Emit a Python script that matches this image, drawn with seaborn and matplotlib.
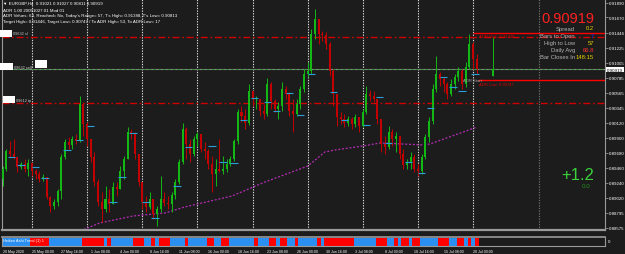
import matplotlib
matplotlib.use("Agg")
import matplotlib.pyplot as plt
from matplotlib.patches import Rectangle
import numpy as np
import seaborn as sns

# ---- EURGBP H4 (drawn as 8-hour candles) ----
first_open = 0.89294
close = [
    0.89442, 0.89706, 0.89662, 0.89618, 0.89471, 0.89515, 0.89442, 0.89530, 0.89412, 0.89368,
    0.89294, 0.89324, 0.89030, 0.88897, 0.88956, 0.89118, 0.89618, 0.89839, 0.89795, 0.89883,
    0.89853, 0.90397, 0.90103, 0.89883, 0.89618, 0.89250, 0.88956, 0.88853, 0.89000, 0.88927,
    0.89177, 0.89147, 0.89412, 0.89589, 0.89986, 0.89956, 0.89662, 0.89250, 0.88956, 0.88883,
    0.89000, 0.88780, 0.88853, 0.89000, 0.88941, 0.88927, 0.89059, 0.89250, 0.89545, 0.90030,
    0.89809, 0.89662, 0.89883, 0.89956, 0.89736, 0.89706, 0.89515, 0.89368, 0.89442, 0.89412,
    0.89442, 0.89515, 0.89589, 0.89853, 0.90280, 0.90221, 0.90118, 0.90588, 0.90471, 0.90471,
    0.90294, 0.90250, 0.90691, 0.90441, 0.90324, 0.90368, 0.90618, 0.90544, 0.90294, 0.90250,
    0.90397, 0.90618, 0.90838, 0.90883, 0.91427, 0.91647, 0.91427, 0.91412, 0.91280, 0.90883,
    0.90544, 0.90206, 0.90177, 0.90118, 0.90177, 0.90103, 0.90206, 0.90074, 0.90280, 0.90544,
    0.90515, 0.90471, 0.90177, 0.89809, 0.89765, 0.89986, 0.89883, 0.89927, 0.89662, 0.89501,
    0.89545, 0.89618, 0.89442, 0.89412, 0.89618, 0.89912, 0.90147, 0.90618, 0.90838, 0.90765,
    0.90691, 0.90544, 0.90691, 0.90794, 0.90883, 0.90691, 0.90941, 0.91280, 0.91059, 0.90919,
]
high = [
    0.89486, 0.89736, 0.89853, 0.89883, 0.89618, 0.89545, 0.89589, 0.89589, 0.89515, 0.89442,
    0.89412, 0.89368, 0.89324, 0.89044, 0.89000, 0.89147, 0.89662, 0.89883, 0.89912, 0.89927,
    0.89956, 0.90515, 0.90427, 0.90133, 0.89883, 0.89692, 0.89294, 0.89103, 0.89191, 0.89147,
    0.89250, 0.89250, 0.89486, 0.89633, 0.90059, 0.90030, 0.89986, 0.89662, 0.89250, 0.89044,
    0.89103, 0.89000, 0.88897, 0.89338, 0.89103, 0.89044, 0.89103, 0.89294, 0.89589, 0.90118,
    0.90059, 0.89883, 0.89927, 0.89986, 0.89956, 0.89839, 0.89736, 0.89633, 0.89589, 0.89883,
    0.89633, 0.89589, 0.89633, 0.89883, 0.90324, 0.90368, 0.90324, 0.90691, 0.90588, 0.90515,
    0.90471, 0.90397, 0.90780, 0.90721, 0.90471, 0.90427, 0.90721, 0.90662, 0.90574, 0.90471,
    0.90471, 0.90662, 0.90912, 0.91015, 0.91500, 0.91794, 0.91647, 0.91471, 0.91456, 0.91309,
    0.90912, 0.90544, 0.90280, 0.90250, 0.90221, 0.90206, 0.90250, 0.90206, 0.90324, 0.90662,
    0.90603, 0.90588, 0.90471, 0.90177, 0.89927, 0.90074, 0.90030, 0.89986, 0.89927, 0.89736,
    0.89589, 0.89692, 0.89662, 0.89515, 0.89662, 0.89956, 0.90206, 0.90691, 0.91103, 0.90868,
    0.90794, 0.90721, 0.90765, 0.90838, 0.90941, 0.90912, 0.91015, 0.91427, 0.91309, 0.91133,
]
low = [
    0.89191, 0.89412, 0.89618, 0.89589, 0.89397, 0.89442, 0.89397, 0.89338, 0.89338, 0.89294,
    0.89250, 0.89265, 0.89000, 0.88809, 0.88853, 0.88897, 0.89000, 0.89589, 0.89736, 0.89736,
    0.89809, 0.89839, 0.89927, 0.89780, 0.89545, 0.89191, 0.88897, 0.88662, 0.88809, 0.88809,
    0.88927, 0.89044, 0.89147, 0.89294, 0.89589, 0.89883, 0.89589, 0.89191, 0.88853, 0.88809,
    0.88853, 0.88706, 0.88603, 0.88809, 0.88897, 0.88853, 0.88809, 0.89000, 0.89221, 0.89515,
    0.89589, 0.89545, 0.89633, 0.89780, 0.89692, 0.89589, 0.89442, 0.89103, 0.89191, 0.89397,
    0.89368, 0.89397, 0.89486, 0.89559, 0.89809, 0.90133, 0.90030, 0.90088, 0.90368, 0.90324,
    0.90221, 0.90177, 0.90221, 0.90324, 0.90280, 0.90177, 0.90294, 0.90471, 0.90221, 0.89986,
    0.90221, 0.90324, 0.90574, 0.90794, 0.90838, 0.91353, 0.91280, 0.91324, 0.91206, 0.90809,
    0.90368, 0.90074, 0.90103, 0.90059, 0.90074, 0.90030, 0.90059, 0.89986, 0.90059, 0.90250,
    0.90441, 0.90427, 0.90103, 0.89692, 0.89662, 0.89736, 0.89780, 0.89692, 0.89589, 0.89442,
    0.89442, 0.89442, 0.89397, 0.89338, 0.89368, 0.89589, 0.89839, 0.90103, 0.90574, 0.90662,
    0.90574, 0.90471, 0.90515, 0.90618, 0.90736, 0.90618, 0.90647, 0.90912, 0.90912, 0.90838,
]
# today's candle shown by the ADR indicator in the chart shift area (O, H, L, C)
today_ohlc = [0.90813, 0.91388, 0.90811, 0.90919]

# moving average (magenta)
ma_bars = [21.1, 26.5, 35.5, 44.2, 49.6, 62.4, 71.4, 83.1, 87.7, 90.5, 98.1, 102.7, 114.4, 116.3, 129.1]
ma_values = [0.88530, 0.88648, 0.88750, 0.88794, 0.88883, 0.89044, 0.89250, 0.89486,
             0.89692, 0.89721, 0.89780, 0.89824, 0.89795, 0.89809, 0.90059]

# small cyan session-open marks
open_tick_bars = [1.5, 4, 8, 10.5, 16.5, 20, 23, 29, 31.5, 34.5, 38, 40.5, 46.5, 49.5, 56, 59, 62,
                  64.5, 67.5, 71, 73.5, 77, 80, 83, 89, 92, 98, 101.5, 104, 109.5, 113, 115.5,
                  119, 121.5, 124, 127.5]
open_tick_prices = [0.89618, 0.89501, 0.89471, 0.89309, 0.89721, 0.89868, 0.90074, 0.88956,
                    0.89324, 0.89971, 0.88956, 0.88721, 0.89191, 0.89765, 0.89780, 0.89545,
                    0.89530, 0.90162, 0.90486, 0.90427, 0.90294, 0.90559, 0.90235, 0.90838,
                    0.90574, 0.90162, 0.90088, 0.90500, 0.89824, 0.89545, 0.89383, 0.90339,
                    0.90794, 0.90647, 0.90588, 0.90838]

# Heiken Ashi trend strip (runs of bars)
ha_lengths = [8, 5, 9, 6, 1, 1, 6, 3, 2, 1, 1, 3, 4, 1, 5, 2, 2, 2, 7, 1, 3, 2, 1, 2, 2, 1, 5, 1,
              1, 8, 6, 3, 2, 1, 1, 2, 1, 2, 5, 3, 2, 2, 1, 1, 1, 1]
ha_trend = ["up", "dn"] * 23

time_labels = ["20 May 2020", "25 May 00:00", "27 May 16:00", "1 Jun 08:00", "4 Jun 00:00",
               "8 Jun 16:00", "11 Jun 08:00", "16 Jun 00:00", "18 Jun 16:00", "23 Jun 08:00",
               "26 Jun 00:00", "30 Jun 16:00", "3 Jul 08:00", "8 Jul 00:00", "10 Jul 16:00",
               "15 Jul 08:00", "20 Jul 00:00"]
time_label_bars = list(range(0, 129, 8))
week_bars = [8, 23, 38, 53, 68, 83, 98, 113, 128]

price_ticks = [0.91890, 0.91670, 0.91446, 0.91225, 0.91005, 0.90785, 0.90565, 0.90345,
               0.90120, 0.89900, 0.89680, 0.89460, 0.89240, 0.89020, 0.88795, 0.88575]
bid = 0.90919
sl_level = 0.91383
tp_level = 0.90412
adr_high = 0.91446
adr_low = 0.90747

# ---- styling ----
BG = "#1c1c1c"
GREEN = "#14b814"
RED = "#c40000"
sns.set_style("dark", {"axes.facecolor": BG, "figure.facecolor": BG, "axes.grid": False,
                       "axes.edgecolor": "#8c8c8c"})
plt.rcParams["font.family"] = ["Liberation Sans", "DejaVu Sans"]

W, H = 625, 255
fig = plt.figure(figsize=(W / 100, H / 100), dpi=100)
fig.patch.set_facecolor(BG)


def rect(x0, y0, x1, y1):
    return [x0 / W, 1 - y1 / H, (x1 - x0) / W, (y1 - y0) / H]


def ftext(x, y, s, **kw):
    fig.text(x / W, 1 - y / H, s, va="center", **kw)


ax = fig.add_axes(rect(2, 0, 605, 231))
axi = fig.add_axes(rect(2, 238, 605, 247))
XLIM = (-0.16, 163.9)

# candles
bars = np.arange(len(close))
c = np.array(close)
o = np.r_[first_open, c[:-1]]
hi = np.maximum(np.array(high), np.maximum(o, c))
lo = np.minimum(np.array(low), np.minimum(o, c))
cols = np.where(c >= o, GREEN, RED)
ax.vlines(bars, lo, hi, colors=cols, lw=0.7, zorder=3)
ax.bar(bars, np.maximum(np.abs(c - o), 0.00004), bottom=np.minimum(o, c), width=0.55,
       color=cols, lw=0, zorder=3)

to, th, tl, tc = today_ohlc
ax.vlines(133.5, tl, th, colors=GREEN, lw=0.7, zorder=3)
ax.bar(133.5, tc - to, bottom=to, width=0.55, color=GREEN, lw=0, zorder=3)

# moving average
sns.lineplot(x=ma_bars, y=ma_values, ax=ax, color="#b42cb4", lw=0.9,
             linestyle=(0, (1.6, 1.4)), sort=False, zorder=2)

# session marks
ax.hlines(open_tick_prices, np.array(open_tick_bars), np.array(open_tick_bars) + 2,
          color="#2b9ed8", lw=0.8, zorder=4)

# week separators
for b in week_bars:
    ax.axvline(b, color="#d8d8d8", lw=0.8, ls=(0, (1.2, 1.2)), zorder=1)
ax.axvline(146, color="#6e6e6e", lw=0.8, ls=(0, (1.2, 1.2)), zorder=1)

# levels
for lvl in (sl_level, tp_level):
    ax.axhline(lvl, color="#d00000", lw=1.0, ls=(0, (5, 2, 1.2, 2)), zorder=2)
ax.axhline(bid, color="#8a8a8a", lw=0.8, zorder=2)
ax.axhline(bid, color="#3a8f3a", lw=0.7, ls=(0, (3, 2)), zorder=2)
ax.hlines(adr_high, 128, XLIM[1], color="#ff0000", lw=1.0, zorder=4)
ax.hlines(adr_low, 129.4, XLIM[1], color="#ff0000", lw=1.0, zorder=4)
ax.text(129.6, adr_high - 0.00055, "ADR High: 0.91446", color="#e00000", fontsize=3.0,
        va="center", zorder=5)
ax.text(129.6, adr_low - 0.00055, "ADR Low: 0.90747", color="#e00000", fontsize=3.0,
        va="center", zorder=5)
ax.text(125.3, adr_low + 0.00005, "ADR Start", color="#a0a0a0", fontsize=3.0,
        va="center", zorder=5)

ax.set_xlim(*XLIM)
ax.set_ylim(0.88544, 0.919415)
ax.yaxis.tick_right()
ax.set_yticks(price_ticks)
ax.set_yticklabels([f"{p:.5f}" for p in price_ticks])
ax.tick_params(axis="y", colors="#8c8c8c", labelcolor="white", labelsize=3.2, length=2,
               width=0.6, pad=1)
ax.set_xticks([])
ax.spines["top"].set_visible(False)
for s in ("left", "right", "bottom"):
    ax.spines[s].set_color("#9a9a9a")
    ax.spines[s].set_linewidth(0.8)
ax.spines["bottom"].set_linewidth(1.6)

# Heiken Ashi strip
ha_cols = np.repeat(["#2a8ff0" if t == "up" else "#ff0000" for t in ha_trend], ha_lengths)
axi.bar(bars, 1, width=1.0, color=ha_cols, lw=0, align="center")
axi.set_xlim(*XLIM)
axi.set_ylim(0, 1.15)
axi.set_yticks([])
axi.set_xticks(time_label_bars)
axi.set_xticklabels(time_labels, ha="left")
axi.tick_params(axis="x", colors="#8c8c8c", labelcolor="white", labelsize=2.6, length=1.5,
                width=0.6, pad=0.8)
for s in axi.spines.values():
    s.set_color("#9a9a9a")
    s.set_linewidth(0.8)
axi.spines["top"].set_linewidth(1.2)

# ---- overlay texts ----
ftext(3, 4, "\u25bc EURGBP,H4  0.91021 0.91027 0.90811 0.90919", color="white", fontsize=3.2)
ftext(3, 10.5, "ADR 1.00 20051027 01 Mod 01", color="white", fontsize=3.2)
ftext(3, 16.5, "ADR Values: 63, Reached= No, Today's Range= 57, T's High= 0.91388, "
               "T's Low= 0.90813", color="white", fontsize=3.2)
ftext(3, 22.5, "Target High= 0.91446, Target Low= 0.90747 / To ADR High= 53, To ADR Low= 17",
      color="white", fontsize=3.2)

# left order labels
for (x0, y0, x1, y1) in [(0, 31, 12, 38), (0, 64, 13, 71), (35, 61, 47, 69), (3, 97, 15, 104)]:
    fig.patches.append(Rectangle((x0 / W, 1 - y1 / H), (x1 - x0) / W, (y1 - y0) / H,
                                 transform=fig.transFigure, facecolor="white", lw=0, zorder=6))
ftext(13, 34, "09632 sl", color="#c8c8c8", fontsize=2.8)
ftext(14, 68, "09632 sell", color="#c8c8c8", fontsize=2.8)
ftext(16, 101, "09612 tp", color="#c8c8c8", fontsize=2.8)

# info panel
ftext(594, 19, "0.90919", color="#ff2020", fontsize=10.5, ha="right")
info = [("Spread", "0.2", "#e8d000"), ("Bars to Open", "7", "#1030ff"),
        ("High to Low", "57", "#e8d000"), ("Daily Avg", "66.8", "#ff3030"),
        ("Bar Closes In", "148:15", "#e8d000")]
for k, (lab, val, vc) in enumerate(info):
    yy = 29 + k * 7.2
    ftext(575, yy, lab, color="#b4b4b4", fontsize=4.2, ha="right")
    ftext(594, yy, val, color=vc, fontsize=4.2, ha="right")

ftext(594, 176, "+1.2", color="#3ad13a", fontsize=12, ha="right")
ftext(590, 186.5, "0.0", color="#1f8f1f", fontsize=4.5, ha="right")

ftext(607, 70.5, "0.90919", color="black", fontsize=3.2,
      bbox=dict(facecolor="white", edgecolor="none", pad=0.6))
ftext(608, 242, "0", color="white", fontsize=3.2)
ftext(3, 241, "Heiken Ashi Trend (1) 1", color="white", fontsize=2.8)

fig.savefig("out.png", dpi=100, facecolor=BG)
